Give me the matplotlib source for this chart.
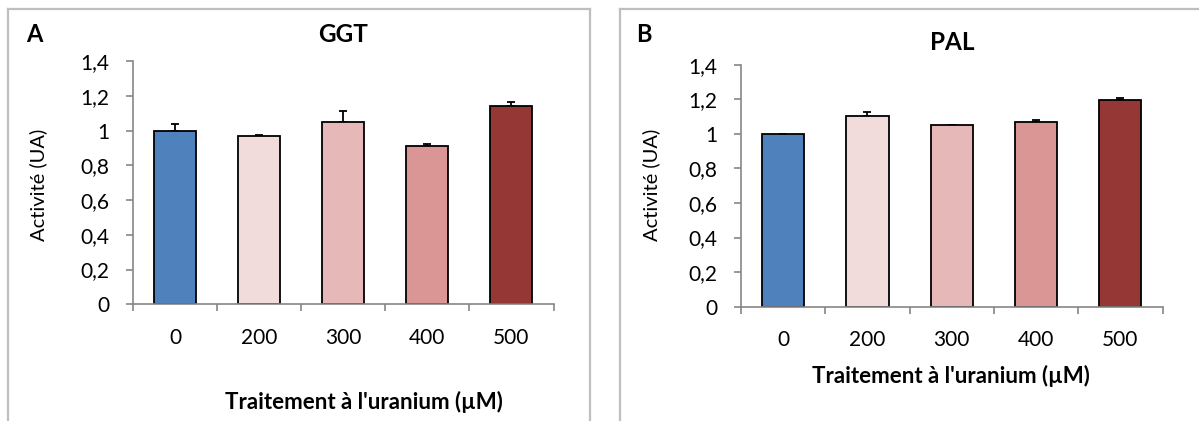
import numpy as np
import matplotlib.pyplot as plt
from matplotlib.lines import Line2D
from matplotlib.ticker import FuncFormatter

# data
doses = ['0', '200', '300', '400', '500']
ggt_vals = [1.0, 0.967, 1.049, 0.913, 1.141]
ggt_err = [0.039, 0.008, 0.063, 0.007, 0.025]
pal_vals = [1.0, 1.102, 1.051, 1.069, 1.196]
pal_err = [0.0, 0.027, 0.003, 0.013, 0.009]
bar_colors = ['#4f81bd', '#f2dcdb', '#e6b9b8', '#d99694', '#953735']
y_ticks = [0, 0.2, 0.4, 0.6, 0.8, 1.0, 1.2, 1.4]

W, H = 1199, 421
plt.rcParams['font.family'] = ['Lato', 'DejaVu Sans']
fig = plt.figure(figsize=(W / 100, H / 100), dpi=100)
fig.patch.set_facecolor('white')


def fx(px):
    return px / W


def fy(py):
    return 1 - py / H


def box(x0, x1, y0, right=True):
    kw = dict(color='#bfbfbf', lw=1.6, transform=fig.transFigure)
    fig.add_artist(Line2D([fx(x0), fx(x0)], [fy(y0), fy(H + 5)], **kw))
    fig.add_artist(Line2D([fx(x0), fx(x1)], [fy(y0), fy(y0)], **kw))
    if right:
        fig.add_artist(Line2D([fx(x1), fx(x1)], [fy(y0), fy(H + 5)], **kw))


def panel(left, right, y0, y14, vals, err, title, title_y, letter, letter_xy,
          ylab_x, xlab_xy):
    ax = fig.add_axes([fx(left), fy(y0), fx(right - left), fy(y14) - fy(y0)])
    x = np.arange(len(doses))
    ax.bar(x, vals, width=0.5, color=bar_colors, edgecolor='black', lw=1.3,
           zorder=2)
    ax.errorbar(x, vals, yerr=[np.zeros(len(err)), err], fmt='none',
                ecolor='black', elinewidth=1.3, capsize=3, capthick=1.3,
                zorder=1)
    ax.set_xlim(-0.5, len(doses) - 0.5)
    ax.set_ylim(0, 1.4)
    ax.set_yticks(y_ticks)
    ax.yaxis.set_major_formatter(
        FuncFormatter(lambda v, p: ('%g' % round(v, 1)).replace('.', ',')))
    ax.set_xticks(x)
    ax.set_xticklabels(doses)
    ax.set_xticks(np.arange(-0.5, len(doses)), minor=True)
    for s in ['top', 'right']:
        ax.spines[s].set_visible(False)
    for s in ['left', 'bottom']:
        ax.spines[s].set_color('#868686')
        ax.spines[s].set_linewidth(1.2)
    ax.tick_params(axis='y', direction='out', length=5, width=1.2,
                   color='#868686', labelsize=15, pad=12)
    ax.tick_params(axis='x', which='major', length=0, labelsize=15, pad=17)
    ax.tick_params(axis='x', which='minor', direction='out', length=5,
                   width=1.2, color='#868686')
    cx = (left + right) / 2
    fig.text(fx(cx), fy(title_y), title, ha='center', va='center',
             fontsize=17.5, fontweight='bold')
    fig.text(fx(letter_xy[0]), fy(letter_xy[1]), letter, ha='center',
             va='center', fontsize=17, fontweight='bold')
    fig.text(fx(ylab_x), fy(185), 'Activité (UA)', rotation=90, ha='center',
             va='center', fontsize=14.5)
    fig.text(fx(xlab_xy[0]), fy(xlab_xy[1]), "Traitement à l'uranium (µM)",
             ha='center', va='center', fontsize=16, fontweight='bold')
    return ax


box(7.5, 590, 8.5)
box(620, 1205, 8.5, right=False)

panel(133, 553.5, 304.3, 61, ggt_vals, ggt_err, 'GGT', 34, 'A', (34, 35),
      38, (364, 402))
panel(741, 1162.5, 306.7, 64.7, pal_vals, pal_err, 'PAL', 43, 'B', (644, 34),
      651, (951, 376))

fig.savefig('out.png', dpi=100, facecolor='white')
